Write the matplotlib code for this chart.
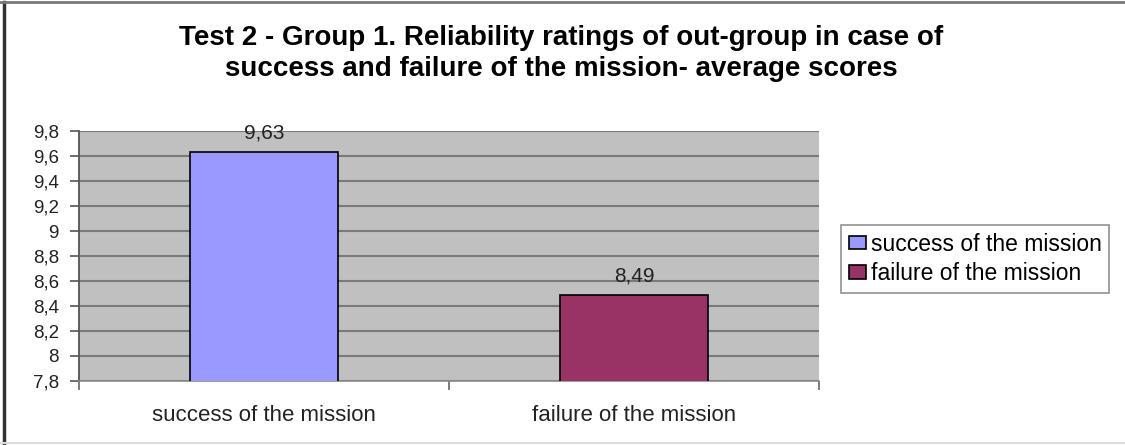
import matplotlib.pyplot as plt
from matplotlib.lines import Line2D

plt.rcParams['font.family'] = ['Liberation Sans', 'DejaVu Sans']

categories = ["success of the mission", "failure of the mission"]
values = [9.63, 8.49]
colors = ['#9999FF', '#993366']
yticks = [7.8, 8.0, 8.2, 8.4, 8.6, 8.8, 9.0, 9.2, 9.4, 9.6, 9.8]
title_lines = ["Test 2 - Group 1. Reliability ratings of out-group in case of",
               "success and failure of the mission- average scores"]

W, H = 1125, 445
fig = plt.figure(figsize=(W / 100, H / 100), dpi=100)
ax = fig.add_axes([79 / W, 1 - 381 / H, 740 / W, 250 / H])

ax.set_facecolor('#C0C0C0')
x = list(range(len(categories)))
bars = ax.bar(x, values, width=0.4, color=colors, edgecolor='black',
              linewidth=1.2, zorder=3)

ax.set_ylim(7.8, 9.8)
ax.set_xlim(-0.5, 1.5)
ax.set_yticks(yticks)
ax.set_yticklabels([f"{t:g}".replace('.', ',') for t in yticks], fontsize=13.5, color='#222222')
ax.yaxis.grid(True, color='#7a7a7a', linewidth=1.5, zorder=0)
ax.set_axisbelow(True)

# category labels centred, tick marks at the category boundaries
ax.set_xticks([-0.5, 0.5, 1.5])
ax.set_xticklabels([])
ax.set_xticks(x, minor=True)
ax.set_xticklabels(categories, minor=True, fontsize=16, color='#222222')
ax.tick_params(axis='x', which='minor', length=0, pad=17)
ax.tick_params(axis='x', which='major', length=6.5, color='#666666', width=1.2)
ax.tick_params(axis='y', length=6.5, color='#555555', width=1.2, pad=8)

for s in ['top', 'right']:
    ax.spines[s].set_visible(False)
ax.spines['left'].set_color('#555555')
ax.spines['left'].set_linewidth(1.3)
ax.spines['bottom'].set_color('#8a8a8a')
ax.spines['bottom'].set_linewidth(1.2)

for xi, v in zip(x, values):
    ax.text(xi, v + 0.11, f"{v:.2f}".replace('.', ','), ha='center', va='baseline',
            fontsize=15, color='#222222')

fig.text(561 / W, 1 - 45 / H, title_lines[0], ha='center', va='baseline',
         fontsize=20, fontweight='bold')
fig.text(561 / W, 1 - 76 / H, title_lines[1], ha='center', va='baseline',
         fontsize=20, fontweight='bold')

leg = fig.legend(handles=bars, labels=categories, loc='upper left',
                 bbox_to_anchor=(841 / W, 1 - 225 / H), frameon=True, fancybox=False,
                 fontsize=16.5, handlelength=0.77, handleheight=0.55,
                 handletextpad=0.2, borderpad=0.33, labelspacing=0.28,
                 borderaxespad=0)
leg.get_frame().set_edgecolor('#777777')
leg.get_frame().set_linewidth(1.2)

# outer chart frame
fig.add_artist(Line2D([4 / W, 4 / W], [0, 1 - 2 / H], transform=fig.transFigure,
                      color='#333333', linewidth=2.5))
fig.add_artist(Line2D([0, 1], [1 - 2 / H, 1 - 2 / H], transform=fig.transFigure,
                      color='#777777', linewidth=2))
fig.add_artist(Line2D([0, 1], [2 / H, 2 / H], transform=fig.transFigure,
                      color='#dddddd', linewidth=1.5))

fig.savefig('out.png', dpi=100)
